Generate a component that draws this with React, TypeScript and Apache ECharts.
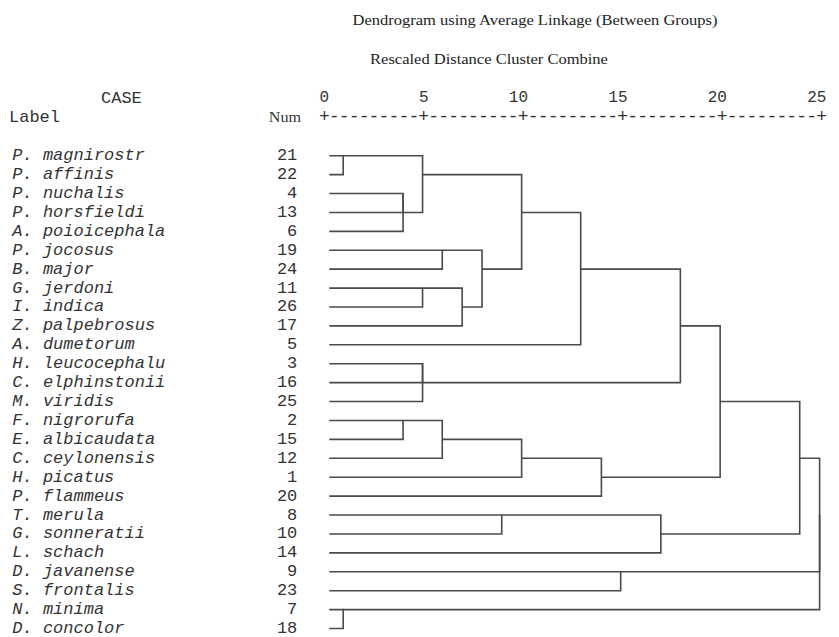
import React, { useEffect, useRef } from "react";
import * as echarts from "echarts";

const caseLabels = [
  "P. magnirostr", "P. affinis", "P. nuchalis", "P. horsfieldi", "A. poioicephala",
  "P. jocosus", "B. major", "G. jerdoni", "I. indica", "Z. palpebrosus",
  "A. dumetorum", "H. leucocephalu", "C. elphinstonii", "M. viridis", "F. nigrorufa",
  "E. albicaudata", "C. ceylonensis", "H. picatus", "P. flammeus", "T. merula",
  "G. sonneratii", "L. schach", "D. javanense", "S. frontalis", "N. minima", "D. concolor",
];
const caseNums = [21, 22, 4, 13, 6, 19, 24, 11, 26, 17, 5, 3, 16, 25, 2, 15, 12, 1, 20, 8, 10, 14, 9, 23, 7, 18];

// linkage: merge k creates cluster id (26 + k) from the two children
const mergePairs = [
  [0, 1], [24, 25], [2, 3], [28, 4], [14, 15], [7, 8], [26, 29], [11, 12], [33, 13],
  [5, 6], [30, 16], [31, 9], [35, 37], [19, 20], [32, 38], [36, 17], [40, 10], [41, 18],
  [22, 23], [39, 21], [42, 34], [46, 43], [47, 45], [48, 44], [49, 27],
];
const mergeHeights = [
  0.95, 0.95, 3.96, 3.96, 3.96, 4.94, 4.94, 4.94, 4.94,
  5.93, 5.93, 6.93, 7.93, 8.92, 9.92, 9.92, 12.89, 13.93,
  14.9, 16.92, 17.9, 19.9, 23.9, 24.9, 24.9,
];
const axisTicks = [0, 5, 10, 15, 20, 25];
const rulerStep = 0.5;
const leafStart = 0.25;

const MONO = "'Liberation Mono', 'DejaVu Sans Mono', monospace";
const SERIF = "'Liberation Serif', 'DejaVu Serif', serif";

function buildSegments() {
  const n = caseLabels.length;
  const nodeX: number[] = [];
  const nodeRow: number[] = [];
  for (let i = 0; i < n; i++) {
    nodeX[i] = leafStart;
    nodeRow[i] = i;
  }
  const data: number[][] = [];
  mergePairs.forEach(([a, b], k) => {
    const h = mergeHeights[k];
    data.push([nodeX[a], nodeRow[a], nodeX[b], nodeRow[b], h]);
    const id = n + k;
    nodeX[id] = h;
    nodeRow[id] = Math.floor((Math.min(nodeRow[a], nodeRow[b]) + Math.max(nodeRow[a], nodeRow[b])) / 2);
  });
  return data;
}

function buildRuler() {
  const marks: number[][] = [];
  const last = axisTicks[axisTicks.length - 1];
  for (let i = 0; i * rulerStep <= last + 1e-9; i++) {
    const v = i * rulerStep;
    marks.push([v, axisTicks.some((t) => Math.abs(t - v) < 1e-9) ? 1 : 0]);
  }
  return marks;
}

export default function App() {
  const ref = useRef<HTMLDivElement>(null);
  useEffect(() => {
    if (!ref.current) return;
    const chart = echarts.init(ref.current, null, { renderer: "svg" });
    const segs = buildSegments();
    const ruler = buildRuler();
    const gridTop = 155.7;
    const rowGap = 19;
    const rulerY = 117;
    const option: any = {
      animation: false,
      backgroundColor: "#ffffff",
      graphic: [
        {
          type: "text", x: 535, y: 20, scaleX: 1.18,
          style: { text: "Dendrogram using Average Linkage (Between Groups)", font: `14px ${SERIF}`, fill: "#222", textAlign: "center", textVerticalAlign: "middle" },
        },
        {
          type: "text", x: 489, y: 59, scaleX: 1.18,
          style: { text: "Rescaled Distance Cluster Combine", font: `14px ${SERIF}`, fill: "#222", textAlign: "center", textVerticalAlign: "middle" },
        },
        {
          type: "text", x: 101, y: 98,
          style: { text: "CASE", font: `17px ${MONO}`, fill: "#333", textAlign: "left", textVerticalAlign: "middle" },
        },
        {
          type: "text", x: 9, y: rulerY,
          style: { text: "Label", font: `17px ${MONO}`, fill: "#333", textAlign: "left", textVerticalAlign: "middle" },
        },
        {
          type: "text", x: 301, y: rulerY, scaleX: 1.15,
          style: { text: "Num", font: `14px ${SERIF}`, fill: "#333", textAlign: "right", textVerticalAlign: "middle" },
        },
      ],
      grid: { left: 324.3, right: 4.7, top: gridTop, height: rowGap * (caseLabels.length - 1) },
      xAxis: [
        {
          type: "value", min: 0, max: 25, interval: 5, position: "top", offset: gridTop - 98,
          axisLine: { show: false }, axisTick: { show: false }, splitLine: { show: false },
          axisLabel: {
            margin: 0, verticalAlign: "middle", align: "center", showMinLabel: true, showMaxLabel: true,
            formatter: (v: number) => {
              if (!axisTicks.includes(v)) return "";
              const s = String(v);
              return s.length > 1 ? `{n|${s}}{h|${s.slice(1)}}` : `{n|${s}}`;
            },
            rich: {
              n: { fontFamily: MONO, fontSize: 16, color: "#333" },
              h: { fontFamily: MONO, fontSize: 16, color: "rgba(0,0,0,0)" },
            },
          },
        },
      ],
      yAxis: {
        type: "category", inverse: true, boundaryGap: false,
        data: caseLabels.map((l, i) => `{n|${l}}{c|${caseNums[i]}}`),
        axisLine: { show: false }, axisTick: { show: false }, splitLine: { show: false },
        axisLabel: {
          margin: 27, interval: 0, align: "right",
          formatter: (v: string) => v,
          rich: {
            n: { fontFamily: MONO, fontStyle: "italic", fontSize: 17, color: "#333", width: 245, align: "left" },
            c: { fontFamily: MONO, fontSize: 17, color: "#333", width: 40, align: "right" },
          },
        },
      },
      series: [
        {
          type: "custom",
          name: "ruler",
          xAxisIndex: 0,
          yAxisIndex: 0,
          clip: false,
          silent: true,
          data: ruler,
          encode: { x: 0 },
          renderItem: (params: any, api: any) => {
            const p = api.coord([api.value(0), 0]);
            const isTick = api.value(1) === 1;
            return {
              type: "text",
              x: p[0],
              y: p[1] - (gridTop - rulerY),
              style: {
                text: isTick ? "+" : "-",
                font: `18px ${MONO}`,
                fill: "#333",
                textAlign: "center",
                textVerticalAlign: "middle",
              },
            };
          },
        },
        {
          type: "custom",
          name: "dendrogram",
          xAxisIndex: 0,
          yAxisIndex: 0,
          clip: false,
          data: segs,
          encode: { x: [0, 2, 4], y: [1, 3] },
          renderItem: (params: any, api: any) => {
            const xA = api.value(0), rA = api.value(1), xB = api.value(2), rB = api.value(3), h = api.value(4);
            const p1 = api.coord([xA, rA]);
            const p2 = api.coord([h, rA]);
            const p3 = api.coord([h, rB]);
            const p4 = api.coord([xB, rB]);
            return {
              type: "polyline",
              shape: { points: [p1, p2, p3, p4] },
              style: { stroke: "#4a4a4a", lineWidth: 1.6, fill: "none" },
            };
          },
        },
      ],
    };
    chart.setOption(option);
    return () => chart.dispose();
  }, []);
  return (
    <div
      ref={ref}
      style={{ position: "fixed", left: 0, top: 0, width: 839, height: 637, background: "#fff" }}
    />
  );
}
